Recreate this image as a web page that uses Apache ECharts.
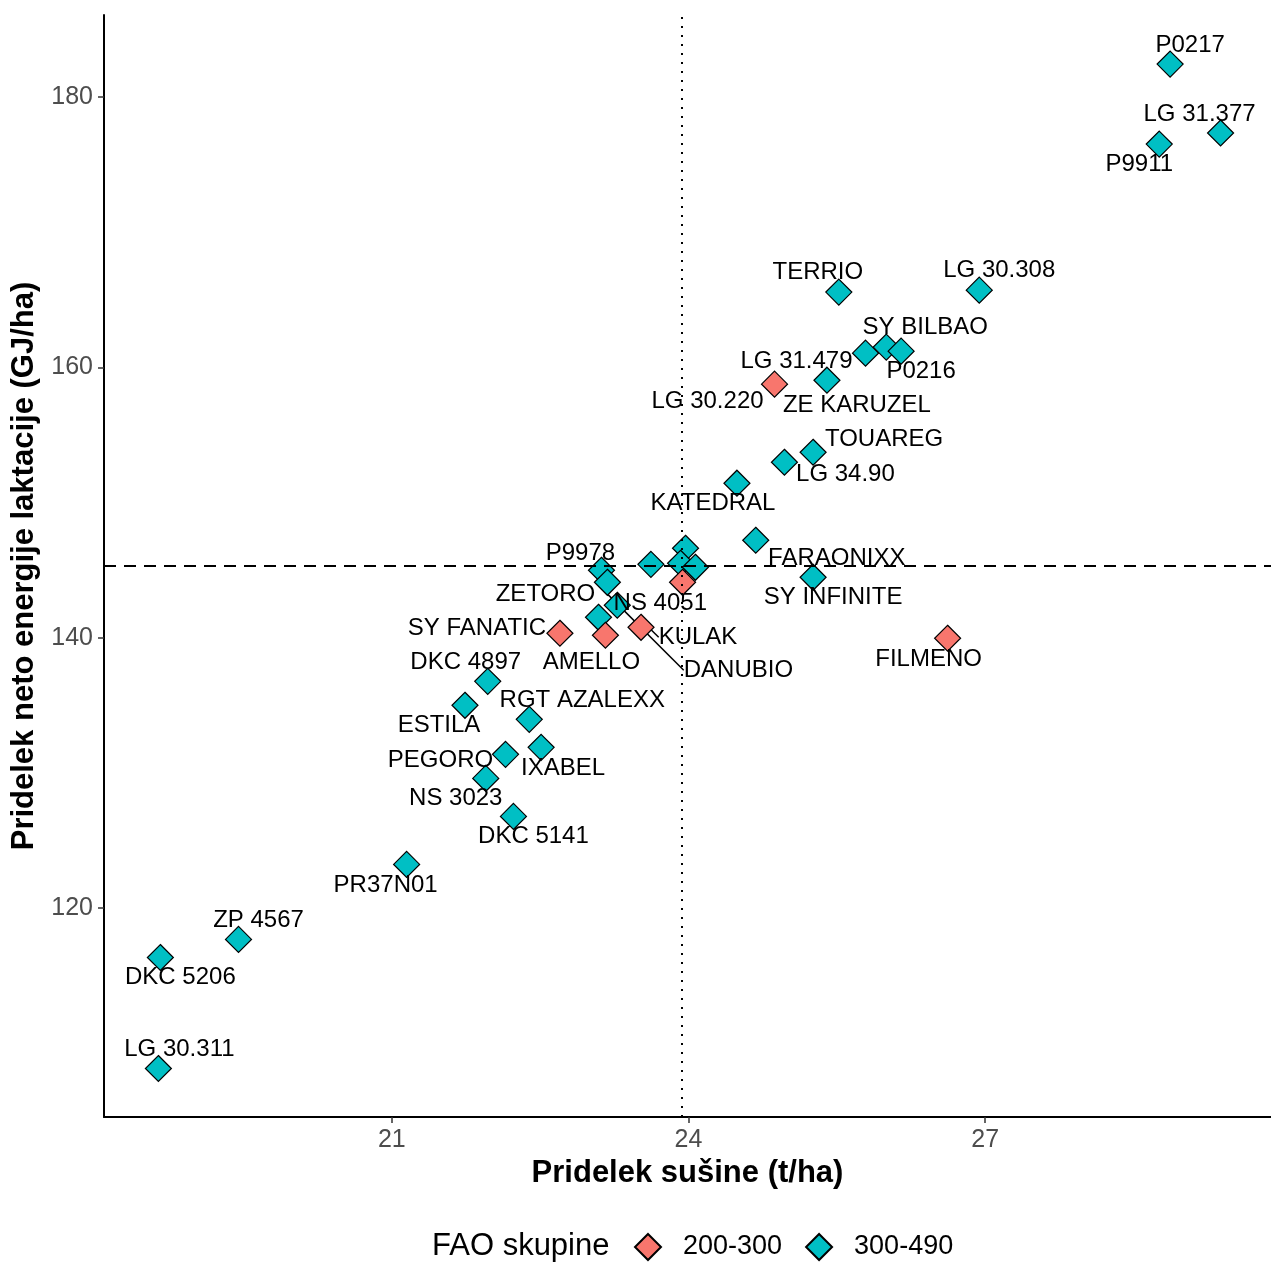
<!DOCTYPE html>
<html>
<head>
<meta charset="utf-8">
<script src="https://cdn.jsdelivr.net/npm/echarts@6/dist/echarts.min.js"></script>
<style>
html,body{margin:0;padding:0;background:#fff;}
#chart{width:1271px;height:1264px;}
</style>
</head>
<body>
<div id="chart"></div>
<script>
// ---- data ----
const names = ["P0217","LG 31.377","P9911","TERRIO","LG 30.308","LG 31.479","SY BILBAO","P0216","ZE KARUZEL","TOUAREG","LG 34.90","KATEDRAL","FARAONIXX","","","","","P9978","DANUBIO","NS 4051","ZETORO","SY INFINITE","DKC 4897","ESTILA","RGT AZALEXX","IXABEL","PEGORO","NS 3023","DKC 5141","PR37N01","ZP 4567","DKC 5206","LG 30.311","LG 30.220","","KULAK","AMELLO","SY FANATIC","FILMENO"];
const faoGroup = ["300-490","300-490","300-490","300-490","300-490","300-490","300-490","300-490","300-490","300-490","300-490","300-490","300-490","300-490","300-490","300-490","300-490","300-490","300-490","300-490","300-490","300-490","300-490","300-490","300-490","300-490","300-490","300-490","300-490","300-490","300-490","300-490","300-490","200-300","200-300","200-300","200-300","200-300","200-300"];
const yieldDM = [28.87,29.38,28.76,25.52,26.94,25.79,26.00,26.15,25.40,25.26,24.97,24.49,24.68,23.97,23.92,24.07,23.62,23.12,23.18,23.28,23.09,25.26,21.97,21.74,22.39,22.51,22.15,21.95,22.23,21.15,19.45,18.66,18.64,24.87,23.94,23.52,23.16,22.70,26.62];
const yieldNEL = [182.44,177.34,176.52,165.57,165.71,161.05,161.50,161.20,159.05,153.72,152.98,151.43,147.21,146.62,145.51,145.21,145.43,144.99,144.10,142.40,141.51,144.47,136.77,135.00,133.96,131.89,131.37,129.59,126.78,123.23,117.68,116.34,108.13,158.76,144.10,140.77,140.18,140.33,139.96];
const meanX = 23.93;
const meanY = 145.36;
const xTicks = [21, 24, 27];
const yTicks = [120, 140, 160, 180];
const groupsOrder = ["200-300", "300-490"];

// ---- styles (label offsets in px relative to point) ----
const labelOffsets = {
  "P0217":[20,-19],"LG 31.377":[-21,-19],"P9911":[-20,20],"TERRIO":[-21,-20],"LG 30.308":[20,-20],
  "LG 31.479":[-69,8],"SY BILBAO":[39,-20],"P0216":[20,20],"ZE KARUZEL":[30,25],"TOUAREG":[71,-13],
  "LG 34.90":[61,12],"KATEDRAL":[-24,20],"FARAONIXX":[81,18],"P9978":[-21,-17],"DANUBIO":[131,88],
  "NS 4051":[43,-2],"ZETORO":[-53,-23],"SY INFINITE":[20,20],"DKC 4897":[-22,-19],"ESTILA":[-26,20],
  "RGT AZALEXX":[53,-19],"IXABEL":[22,21],"PEGORO":[-65,6],"NS 3023":[-30,20],"DKC 5141":[20,20],
  "PR37N01":[-21,21],"ZP 4567":[20,-19],"DKC 5206":[20,20],"LG 30.311":[21,-19],"LG 30.220":[-67,17],
  "KULAK":[57,10],"AMELLO":[-14,27],"SY FANATIC":[-83,-5],"FILMENO":[-19,21]
};
const withLine = {"DANUBIO":true, "KULAK":true};
const colors = {"200-300":"#F8766D","300-490":"#00BFC4"};
const FONT = "'Liberation Sans', Arial, sans-serif";

function buildData(group){
  const out = [];
  for (let i = 0; i < names.length; i++){
    if (faoGroup[i] !== group) continue;
    const n = names[i];
    const item = {name: n, value: [yieldDM[i], yieldNEL[i]]};
    if (n && labelOffsets[n]){
      item.label = {show:true, position:'inside', offset: labelOffsets[n], formatter: n};
      if (withLine[n]) item.labelLine = {show:true, lineStyle:{color:'#000', width:1.5}};
    } else {
      item.label = {show:false};
    }
    out.push(item);
  }
  return out;
}

function pointSeries(group, z){
  return {
    name: group, type:'scatter', symbol:'diamond', symbolSize:26, z: z,
    itemStyle:{color: colors[group], borderColor:'#000', borderWidth:1.2, opacity:1},
    label:{show:false, color:'#000', fontSize:24, fontFamily:FONT, align:'center', verticalAlign:'middle'},
    emphasis:{disabled:true},
    data: buildData(group)
  };
}

const chart = echarts.init(document.getElementById('chart'), null, {renderer:'canvas'});
chart.setOption({
  animation:false,
  backgroundColor:'#fff',
  textStyle:{fontFamily:FONT},
  title:{text:'FAO skupine', left:427, top:1226, textStyle:{fontSize:31, fontWeight:'normal', color:'#000', fontFamily:FONT}},
  legend:{
    data: groupsOrder, left:629, top:1228, icon:'diamond', itemWidth:26, itemHeight:26, itemGap:23,
    textStyle:{fontSize:27, color:'#000', fontFamily:FONT, padding:[0,0,0,17]},
    selectedMode:false
  },
  grid:{left:104, right:0, top:15, bottom:147},
  xAxis:{
    type:'value', min:18.09, max:29.89,
    name:'Pridelek sušine (t/ha)', nameLocation:'middle', nameGap:40,
    nameTextStyle:{fontSize:31, fontWeight:'bold', color:'#000', fontFamily:FONT},
    axisLine:{show:true, onZero:false, lineStyle:{color:'#000', width:2}},
    axisTick:{show:true, length:6, lineStyle:{color:'#333', width:1.5}, customValues:xTicks},
    axisLabel:{fontSize:25, color:'#4D4D4D', margin:11, fontFamily:FONT, customValues:xTicks},
    splitLine:{show:false}
  },
  yAxis:{
    type:'value', min:104.54, max:186.07,
    name:'Pridelek neto energije laktacije (GJ/ha)', nameLocation:'middle', nameGap:58, nameRotate:90,
    nameTextStyle:{fontSize:31, fontWeight:'bold', color:'#000', fontFamily:FONT},
    axisLine:{show:true, onZero:false, lineStyle:{color:'#000', width:2}},
    axisTick:{show:true, length:6, lineStyle:{color:'#333', width:1.5}, customValues:yTicks},
    axisLabel:{fontSize:25, color:'#4D4D4D', margin:11, fontFamily:FONT, customValues:yTicks},
    splitLine:{show:false}
  },
  series:[
    {
      name:'means', type:'scatter', data:[], z:1, silent:true,
      markLine:{
        silent:true, symbol:['none','none'], animation:false,
        label:{show:false},
        data:[
          {xAxis: meanX, lineStyle:{color:'#000', width:2, type:[2,7]}},
          {yAxis: meanY, lineStyle:{color:'#000', width:2, type:[12,8]}}
        ]
      }
    },
    pointSeries('300-490', 2),
    pointSeries('200-300', 3)
  ]
});
</script>
</body>
</html>
